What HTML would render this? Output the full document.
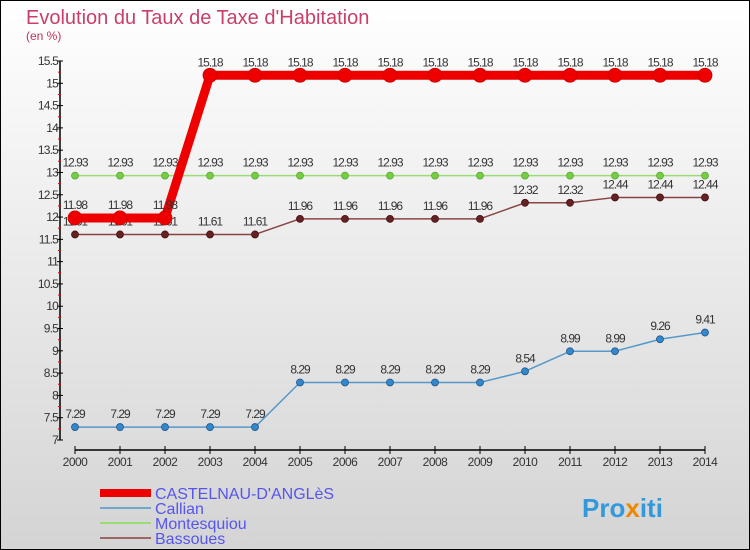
<!DOCTYPE html>
<html><head><meta charset="utf-8"><style>
body{margin:0}
svg{display:block;font-family:"Liberation Sans",sans-serif}
</style></head><body>
<svg width="750" height="550" viewBox="0 0 750 550">
<defs><linearGradient id="bg" x1="0" y1="0" x2="0" y2="1"><stop offset="0" stop-color="#ffffff"/><stop offset="1" stop-color="#d4d4d4"/></linearGradient></defs>
<rect x="0.5" y="0.5" width="749" height="549" fill="url(#bg)" stroke="#000"/>
<text x="26" y="24" font-size="20" fill="#c8406a">Evolution du Taux de Taxe d'Habitation</text>
<text x="26" y="40" font-size="12" fill="#c0305a">(en %)</text>
<g id="axes"></g>
<g id="series"></g>
<g>
<rect x="100" y="489" width="51" height="8" fill="#ee0000"/>
<text x="155" y="499" font-size="16" fill="#5555ee">CASTELNAU-D'ANGLèS</text>
<rect x="100" y="507" width="51" height="2" fill="#6fa8cc"/>
<text x="155" y="514" font-size="16" fill="#5555ee">Callian</text>
<rect x="100" y="522" width="51" height="2" fill="#99dd77"/>
<text x="155" y="529" font-size="16" fill="#5555ee">Montesquiou</text>
<rect x="100" y="537" width="51" height="2" fill="#9a6666"/>
<text x="155" y="544" font-size="16" fill="#5555ee">Bassoues</text>
</g>
<text x="582" y="517" font-size="26" font-weight="bold" fill="#3399dd">Pro<tspan fill="#ee8800">x</tspan>iti</text>
</svg>
<script>
const years=[2000,2001,2002,2003,2004,2005,2006,2007,2008,2009,2010,2011,2012,2013,2014];
const castelnau=[11.98,11.98,11.98,15.18,15.18,15.18,15.18,15.18,15.18,15.18,15.18,15.18,15.18,15.18,15.18];
const callian=[7.29,7.29,7.29,7.29,7.29,8.29,8.29,8.29,8.29,8.29,8.54,8.99,8.99,9.26,9.41];
const montesquiou=[12.93,12.93,12.93,12.93,12.93,12.93,12.93,12.93,12.93,12.93,12.93,12.93,12.93,12.93,12.93];
const bassoues=[11.61,11.61,11.61,11.61,11.61,11.96,11.96,11.96,11.96,11.96,12.32,12.32,12.44,12.44,12.44];
const yTicks=[7,7.5,8,8.5,9,9.5,10,10.5,11,11.5,12,12.5,13,13.5,14,14.5,15,15.5];

const NS="http://www.w3.org/2000/svg";
const x=i=>75+i*(630/(years.length-1));
const y=v=>440-(v-7)*(379/8.5);
function mk(tag,attrs,parent){const e=document.createElementNS(NS,tag);for(const k in attrs)e.setAttribute(k,attrs[k]);parent.appendChild(e);return e;}
const ax=document.getElementById('axes');
let e=mk('line',{x1:60,y1:61,x2:60,y2:440,stroke:'#000','stroke-width':1.5},ax);


e=mk('line',{x1:75,y1:450,x2:705,y2:450,stroke:'#000','stroke-width':1.5},ax);


yTicks.forEach((t,k)=>{
  mk('line',{x1:57,y1:y(t),x2:63,y2:y(t),stroke:'#000'},ax);
  if(k<yTicks.length-1)mk('line',{x1:58,y1:y(t+0.25),x2:61,y2:y(t+0.25),stroke:'#e00'},ax);
  const tx=mk('text',{x:58,y:y(t)+4,'text-anchor':'end','font-size':12,fill:'#333','letter-spacing':'-0.8'},ax);
  tx.textContent=String(t);
  
  
});
years.forEach((yr,i)=>{
  mk('line',{x1:x(i),y1:446,x2:x(i),y2:454,stroke:'#000'},ax);
  const tx=mk('text',{x:x(i),y:466,'text-anchor':'middle','font-size':12,fill:'#333','letter-spacing':'-0.5'},ax);
  tx.textContent=yr;
  
  
});
const sg=document.getElementById('series');
function series(vals,name,color,lw,r,dot,stroke){
  const g=mk('g',{},sg);
  
  
  const p=mk('polyline',{points:vals.map((v,i)=>x(i)+','+y(v)).join(' '),fill:'none',stroke:color,'stroke-width':lw,'stroke-linejoin':'round'},g);
  
  
  vals.forEach((v,i)=>{
    const c=mk('circle',{cx:x(i),cy:y(v),r:r,fill:dot,stroke:stroke,'stroke-width':0.8},g);
    
    
    const t=mk('text',{x:x(i),y:y(v)-9,'text-anchor':'middle','font-size':12,fill:'#333','letter-spacing':'-1'},g);
    t.textContent=v.toFixed(2);
    
    
  });
}
series(callian,'callian','#5599cc',1.5,3.5,'#3388cc','#225588');
series(montesquiou,'montesquiou','#99dd77',1.5,3.5,'#77cc44','#55aa33');
series(bassoues,'bassoues','#884444',1.5,3.5,'#662222','#441111');
series(castelnau,'castelnau','#ee0000',9,7,'#ee0000','#cc0000');
</script>
</body></html>
